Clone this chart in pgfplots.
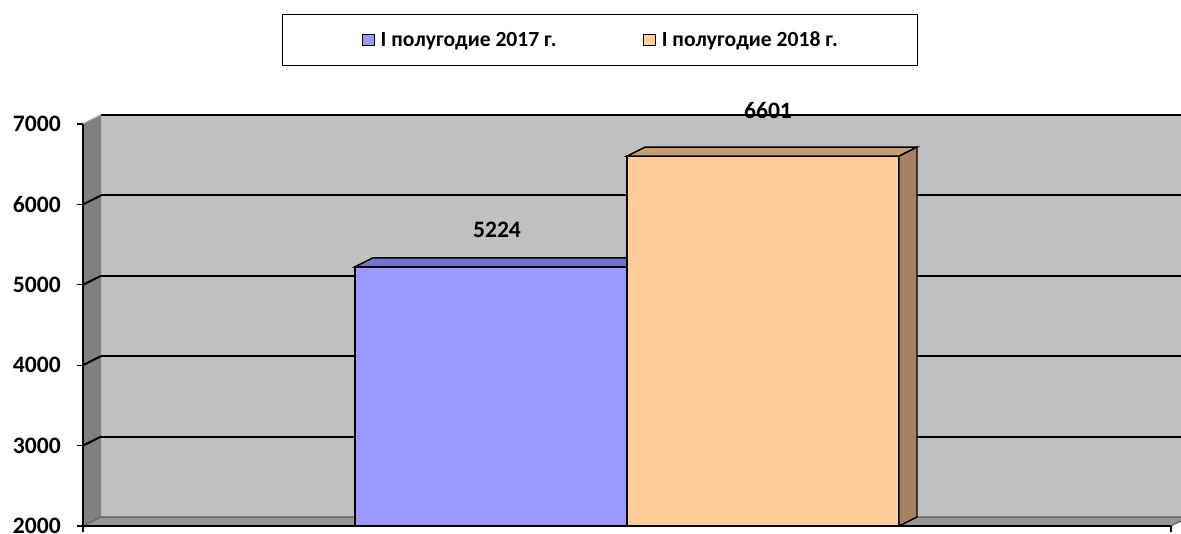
\documentclass[border=0pt]{standalone}
\usepackage{fontspec}
\setmainfont{Carlito}
\usepackage{pgfplots}
\pgfplotsset{compat=1.18}
\definecolor{wallc}{HTML}{C0C0C0}
\definecolor{sidec}{HTML}{808080}
\definecolor{floorc}{HTML}{969696}
\definecolor{blueA}{HTML}{9999FF}
\definecolor{blueB}{HTML}{7373C8}
\definecolor{orA}{HTML}{FFCC99}
\definecolor{orB}{HTML}{C89C74}
\definecolor{orC}{HTML}{A68062}
\begin{document}
\begin{tikzpicture}
\useasboundingbox (-62.25pt,-5.25pt) rectangle (823.5pt,394.5pt);
\clip (-62.25pt,-5.25pt) rectangle (823.5pt,394.5pt);
\begin{axis}[
  at={(0pt,0pt)}, anchor=south west,
  scale only axis, x=204pt, y=0.0603pt,
  xmin=0, xmax=4, ymin=2000, ymax=7000,
  clip=false, axis on top,
  axis x line=bottom, axis y line=left,
  axis line style={-, black, line width=1.3pt},
  xtick={0,4}, xticklabels={}, 
  ytick={2000,3000,4000,5000,6000,7000},
  tick align=outside, major tick length=4.5pt,
  tick style={black, line width=1pt},
  /pgf/number format/assume math mode=true,
  /pgf/number format/1000 sep={},
  yticklabel style={font=\bfseries\fontsize{17.7}{20}\selectfont, anchor=east, inner sep=0pt, xshift=-12pt},
  legend columns=2,
  legend cell align=left,
  legend style={at={(0.4752,1.209)}, anchor=center, draw=black, line width=0.75pt,
    font=\bfseries\fontsize{16.2}{18}\selectfont,
    inner xsep=60pt, inner ysep=12.5pt,
    nodes={inner sep=0pt},
    /tikz/every odd column/.append style={column sep=4.5pt},
    /tikz/every even column/.append style={column sep=65pt}},
  legend image code/.code={\draw[#1, draw=black, line width=0.75pt] (0pt,-4.3pt) rectangle (8.6pt,4.3pt);},
]
% walls
\fill[wallc] (axis cs:0.0662,2112) rectangle (axis cs:4.3,7112);
\fill[sidec] (axis cs:0,2000) -- (axis cs:0.0662,2112) -- (axis cs:0.0662,7112) -- (axis cs:0,7000) -- cycle;
\filldraw[fill=floorc, draw=black!65, line width=0.8pt] (axis cs:0,2000) -- (axis cs:0.0662,2112) -- (axis cs:4.0662,2112) -- (axis cs:4,2000) -- cycle;
\draw[black!65, line width=0.8pt] (axis cs:4.0662,2112) -- (axis cs:4.3,2112);
% gridlines
\draw[black, line width=1.5pt] (axis cs:0.0662,3112) -- (axis cs:4.3,3112);
\draw[black, line width=1.5pt] (axis cs:0.0662,4112) -- (axis cs:4.3,4112);
\draw[black, line width=1.5pt] (axis cs:0.0662,5112) -- (axis cs:4.3,5112);
\draw[black, line width=1.5pt] (axis cs:0.0662,6112) -- (axis cs:4.3,6112);
\draw[black, line width=1.5pt] (axis cs:0.0662,7112) -- (axis cs:4.3,7112);
\draw[black, line width=1.5pt] (axis cs:0,3000) -- (axis cs:0.0662,3112);
\draw[black, line width=1.5pt] (axis cs:0,4000) -- (axis cs:0.0662,4112);
\draw[black, line width=1.5pt] (axis cs:0,5000) -- (axis cs:0.0662,5112);
\draw[black, line width=1.5pt] (axis cs:0,6000) -- (axis cs:0.0662,6112);
\draw[black!40, line width=1pt] (axis cs:0,7000) -- (axis cs:0.0662,7112);
% bars
\addplot[fill=blueA, draw=black, line width=1.1pt] coordinates {(1,2000) (1,5224) (2,5224) (2,2000)} -- cycle;
\addlegendentry{I полугодие 2017 г.}
\addplot[fill=blueB, draw=black, line width=1.1pt, forget plot] coordinates {(1,5224) (1.0662,5336) (2.0662,5336) (2,5224)} -- cycle;
\addplot[fill=orA, draw=black, line width=1.1pt] coordinates {(2,2000) (2,6601) (3,6601) (3,2000)} -- cycle;
\addlegendentry{I полугодие 2018 г.}
\addplot[fill=orB, draw=black, line width=1.1pt, forget plot] coordinates {(2,6601) (2.0662,6713) (3.0662,6713) (3,6601)} -- cycle;
\addplot[fill=orC, draw=black, line width=1.1pt, forget plot] coordinates {(3,2000) (3.0662,2112) (3.0662,6713) (3,6601)} -- cycle;
% labels
\addplot[draw=none, mark=none, forget plot, nodes near coords,
  nodes near coords style={font=\bfseries\fontsize{17.7}{20}\selectfont, anchor=center, yshift=27.6pt, xshift=4.5pt}]
  coordinates {(1.5,5224)};
\addplot[draw=none, mark=none, forget plot, nodes near coords,
  nodes near coords style={font=\bfseries\fontsize{17.7}{20}\selectfont, anchor=center, yshift=34.5pt, xshift=3.75pt}]
  coordinates {(2.5,6601)};
\end{axis}
\end{tikzpicture}
\end{document}
